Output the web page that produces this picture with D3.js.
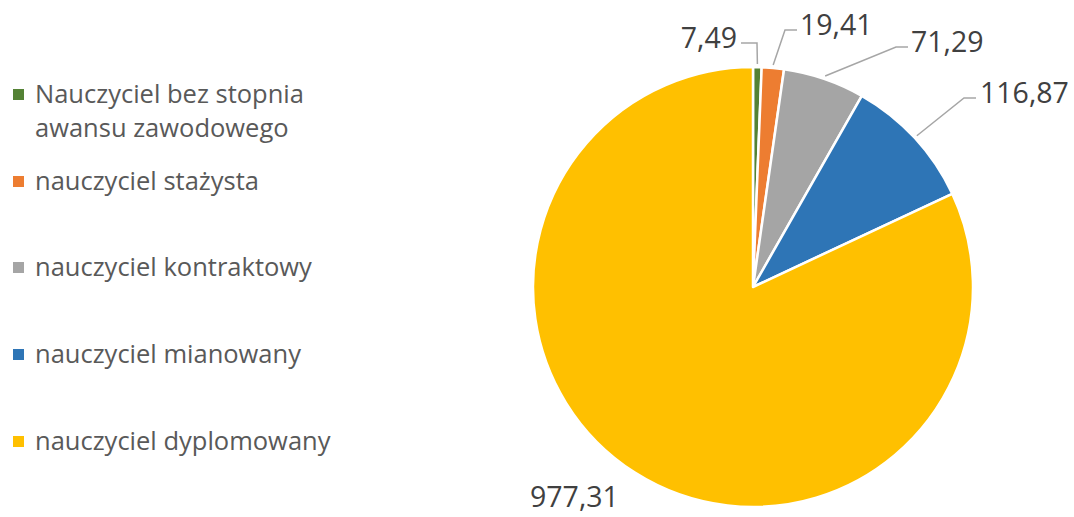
<!DOCTYPE html>
<html>
<head>
<meta charset="utf-8">
<script src="https://cdnjs.cloudflare.com/ajax/libs/d3/7.8.5/d3.min.js"></script>
<style>
  body { margin: 0; background: #fff; }
  svg { display: block; }
</style>
</head>
<body>
<div id="chart"></div>
<script>
var categories = [
    "Nauczyciel bez stopnia awansu zawodowego",
    "nauczyciel stażysta",
    "nauczyciel kontraktowy",
    "nauczyciel mianowany",
    "nauczyciel dyplomowany"
]
var values = [7.49, 19.41, 71.29, 116.87, 977.31]
var colors = ["#548235", "#ed7d31", "#a5a5a5", "#2e75b6", "#ffc000"]
var legendLines = [
    ["Nauczyciel bez stopnia", "awansu zawodowego"],
    ["nauczyciel stażysta"],
    ["nauczyciel kontraktowy"],
    ["nauczyciel mianowany"],
    ["nauczyciel dyplomowany"]
]

var width = 1074
var height = 517
var cx = 753, cy = 287, radius = 220

// label anchor: [x, y, anchor, elbow x or null]
var labelLayout = [
    [737, 48, "end", 741],
    [800, 35, "start", 797],
    [911, 52, "start", 908],
    [980, 103, "start", 976],
    [530, 507, "start", null]
]

var fmt = function(v) { return d3.format(".2f")(v).replace(".", ",") }

var svg = d3.select("#chart")
    .append("svg")
    .attr("width", width)
    .attr("height", height)

var pie = d3.pie().sort(null).value(function(d) { return d })
var arcs = pie(values)

var arc = d3.arc().innerRadius(0).outerRadius(radius)
var outer = d3.arc().innerRadius(radius + 3).outerRadius(radius + 3)

var g = svg.append("g").attr("transform", "translate(" + cx + "," + cy + ")")

g.selectAll("path")
    .data(arcs)
    .enter()
    .append("path")
    .attr("d", arc)
    .attr("fill", function(d, i) { return colors[i] })
    .attr("stroke", "#fff")
    .attr("stroke-width", 2.5)
    .attr("stroke-linejoin", "round")

// leader lines
svg.append("g").selectAll("polyline")
    .data(arcs.filter(function(d, i) { return labelLayout[i][3] !== null }))
    .enter()
    .append("polyline")
    .attr("fill", "none")
    .attr("stroke", "#a6a6a6")
    .attr("stroke-width", 1.5)
    .attr("points", function(d) {
        var L = labelLayout[d.index]
        var p = outer.centroid(d)
        var y = L[1] - 5
        var x0 = L[3]
        var x1 = L[2] === "end" ? x0 + 16 : x0 - 12
        return [[x0, y], [x1, y], [p[0] + cx, p[1] + cy]].join(" ")
    })

svg.append("g").selectAll("text")
    .data(arcs)
    .enter()
    .append("text")
    .attr("x", function(d) { return labelLayout[d.index][0] })
    .attr("y", function(d) { return labelLayout[d.index][1] })
    .attr("text-anchor", function(d) { return labelLayout[d.index][2] })
    .attr("font-family", "Open Sans")
    .attr("font-size", 28.5)
    .attr("fill", "#404040")
    .text(function(d) { return fmt(d.data) })

// legend
var legendY = [95, 182, 268, 355, 442]
var legend = svg.append("g")
    .selectAll("g")
    .data(categories)
    .enter()
    .append("g")
    .attr("transform", function(d, i) { return "translate(13," + legendY[i] + ")" })

legend.append("rect")
    .attr("x", 0)
    .attr("y", -6)
    .attr("width", 11)
    .attr("height", 11)
    .attr("fill", function(d, i) { return colors[i] })

legend.append("text")
    .attr("x", 22)
    .attr("y", 8)
    .attr("font-family", "Open Sans")
    .attr("font-size", 25.5)
    .attr("fill", "#595959")
    .selectAll("tspan")
    .data(function(d, i) { return legendLines[i] })
    .enter()
    .append("tspan")
    .attr("x", 22)
    .attr("dy", function(d, j) { return j === 0 ? 0 : 34 })
    .text(function(d) { return d })
</script>
</body>
</html>
